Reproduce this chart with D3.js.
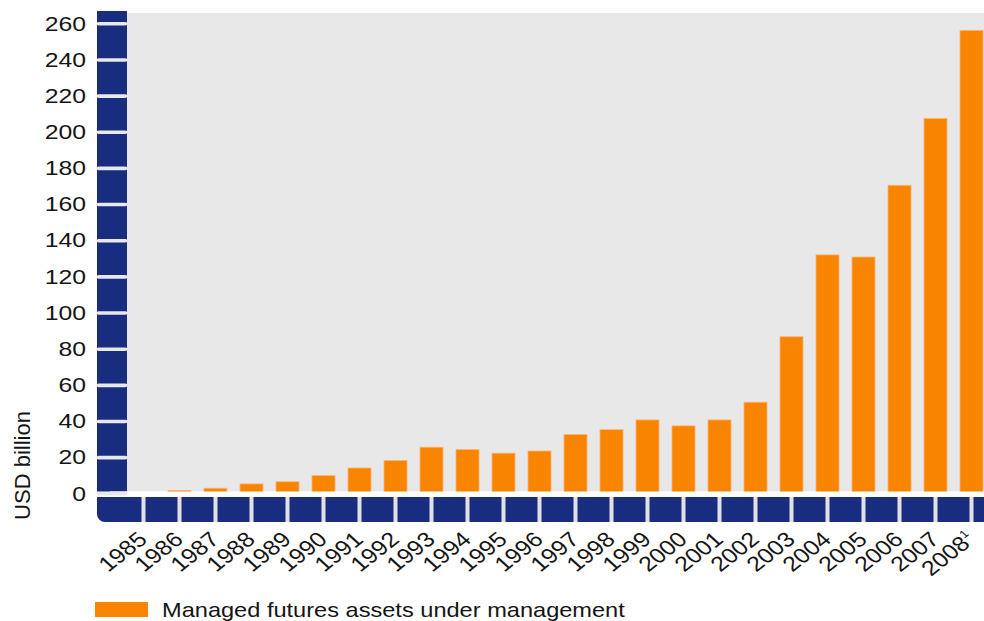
<!DOCTYPE html>
<html>
<head>
<meta charset="utf-8">
<script src="https://cdn.jsdelivr.net/npm/d3@7"></script>
<style>
  body { margin: 0; background: #fff; }
  svg { display: block; font-family: "Liberation Sans", Arial, sans-serif; }
</style>
</head>
<body>
<svg id="chart" width="984" height="621"></svg>
<script>
// Managed futures assets under management, USD billion
const years = ["1985", "1986", "1987", "1988", "1989", "1990", "1991", "1992",
  "1993", "1994", "1995", "1996", "1997", "1998", "1999", "2000",
  "2001", "2002", "2003", "2004", "2005", "2006", "2007", "2008"];
const assets = [0.4, 1.6, 2.8, 5.2, 6.4, 9.8, 14.0, 18.1,
  25.5, 24.2, 22.2, 23.4, 32.5, 35.2, 40.6, 37.3,
  40.6, 50.4, 86.6, 131.9, 130.7, 170.4, 207.4, 256.1];
const yTicks = [0, 20, 40, 60, 80, 100, 120, 140, 160, 180, 200, 220, 240, 260];
const footnoteYear = "2008";
const footnoteMark = "1";
const yTitle = "USD billion";
const legendLabel = "Managed futures assets under management";

const W = 984;
const NAVY = "#182c80";
const ORANGE = "#f98400";
const PANEL = "#e8e8e8";
const SX = 1.18; // horizontal stretch of text glyphs

const svg = d3.select("#chart");

const y = d3.scaleLinear().domain([0, 260]).range([493.3, 23.3]);
const x = d3.scaleBand().domain(years).range([125.5, 989.5])
  .paddingInner(0.36).paddingOuter(0.18);

// plot panel
svg.append("rect").attr("x", 127).attr("y", 13)
  .attr("width", W - 127).attr("height", 491.5 - 13).attr("fill", PANEL);

// left axis band
svg.append("rect").attr("x", 97).attr("y", 11)
  .attr("width", 30).attr("height", 491.5 - 11).attr("fill", NAVY);

// bottom axis band with rounded lower-left corner
svg.append("path")
  .attr("d", "M97,497 H" + W + " V522 H105 A8,8 0 0 1 97,514 Z")
  .attr("fill", NAVY);

// bars
svg.append("g").selectAll("rect").data(years).join("rect")
  .attr("x", d => x(d))
  .attr("width", x.bandwidth())
  .attr("y", (d, i) => y(assets[i]))
  .attr("height", (d, i) => y(0) - y(assets[i]))
  .attr("fill", ORANGE)
  .attr("stroke", "#fbb676")
  .attr("stroke-width", 0.8);

// baseline
svg.append("rect").attr("x", 110).attr("y", 491.5)
  .attr("width", W - 110).attr("height", 5).attr("fill", "#fff");

// y axis: ticks cross the navy band
const yAxis = svg.append("g").attr("transform", "translate(127,0)")
  .call(d3.axisLeft(y).tickValues(yTicks).tickSize(28.5).tickPadding(12.5));
yAxis.select(".domain").remove();
yAxis.selectAll(".tick line")
  .attr("x1", -1.5)
  .attr("stroke", PANEL).attr("stroke-width", 3.6).attr("stroke-linecap", "round");
yAxis.selectAll(".tick text")
  .attr("x", -41 / SX)
  .attr("transform", `scale(${SX},1)`)
  .attr("fill", "#151515")
  .style("font-size", "21px")
  .style("font-family", "'Liberation Sans', Arial, sans-serif");

// x axis: separators in the bottom band and rotated year labels
const xAxis = svg.append("g").attr("transform", "translate(0,497)")
  .call(d3.axisBottom(x).tickSize(25).tickPadding(0));
xAxis.select(".domain").remove();
xAxis.selectAll(".tick line")
  .attr("stroke", "#e2e2e2").attr("stroke-width", 4);
xAxis.selectAll(".tick text")
  .attr("y", 0).attr("dy", 0)
  .attr("text-anchor", "end")
  .attr("transform", `translate(5,44) scale(${SX},1) rotate(-43)`)
  .attr("fill", "#151515")
  .style("font-size", "21px")
  .style("font-family", "'Liberation Sans', Arial, sans-serif")
  .each(function (d) {
    if (d === footnoteYear) {
      const t = d3.select(this);
      t.text(null);
      t.append("tspan").text(d);
      t.append("tspan").text(footnoteMark)
        .attr("font-size", "11px").attr("dy", "-0.8em");
    }
  });

// y title
svg.append("text")
  .attr("transform", "translate(22,465.5) rotate(-90)")
  .attr("text-anchor", "middle")
  .attr("dominant-baseline", "central")
  .attr("fill", "#151515")
  .style("font-size", "22px")
  .text(yTitle);

// legend
svg.append("rect").attr("x", 95).attr("y", 602)
  .attr("width", 53).attr("height", 15).attr("fill", ORANGE);
svg.append("text")
  .attr("transform", `translate(162,617) scale(${SX},1)`)
  .attr("fill", "#151515")
  .style("font-size", "20px")
  .text(legendLabel);
</script>
</body>
</html>
